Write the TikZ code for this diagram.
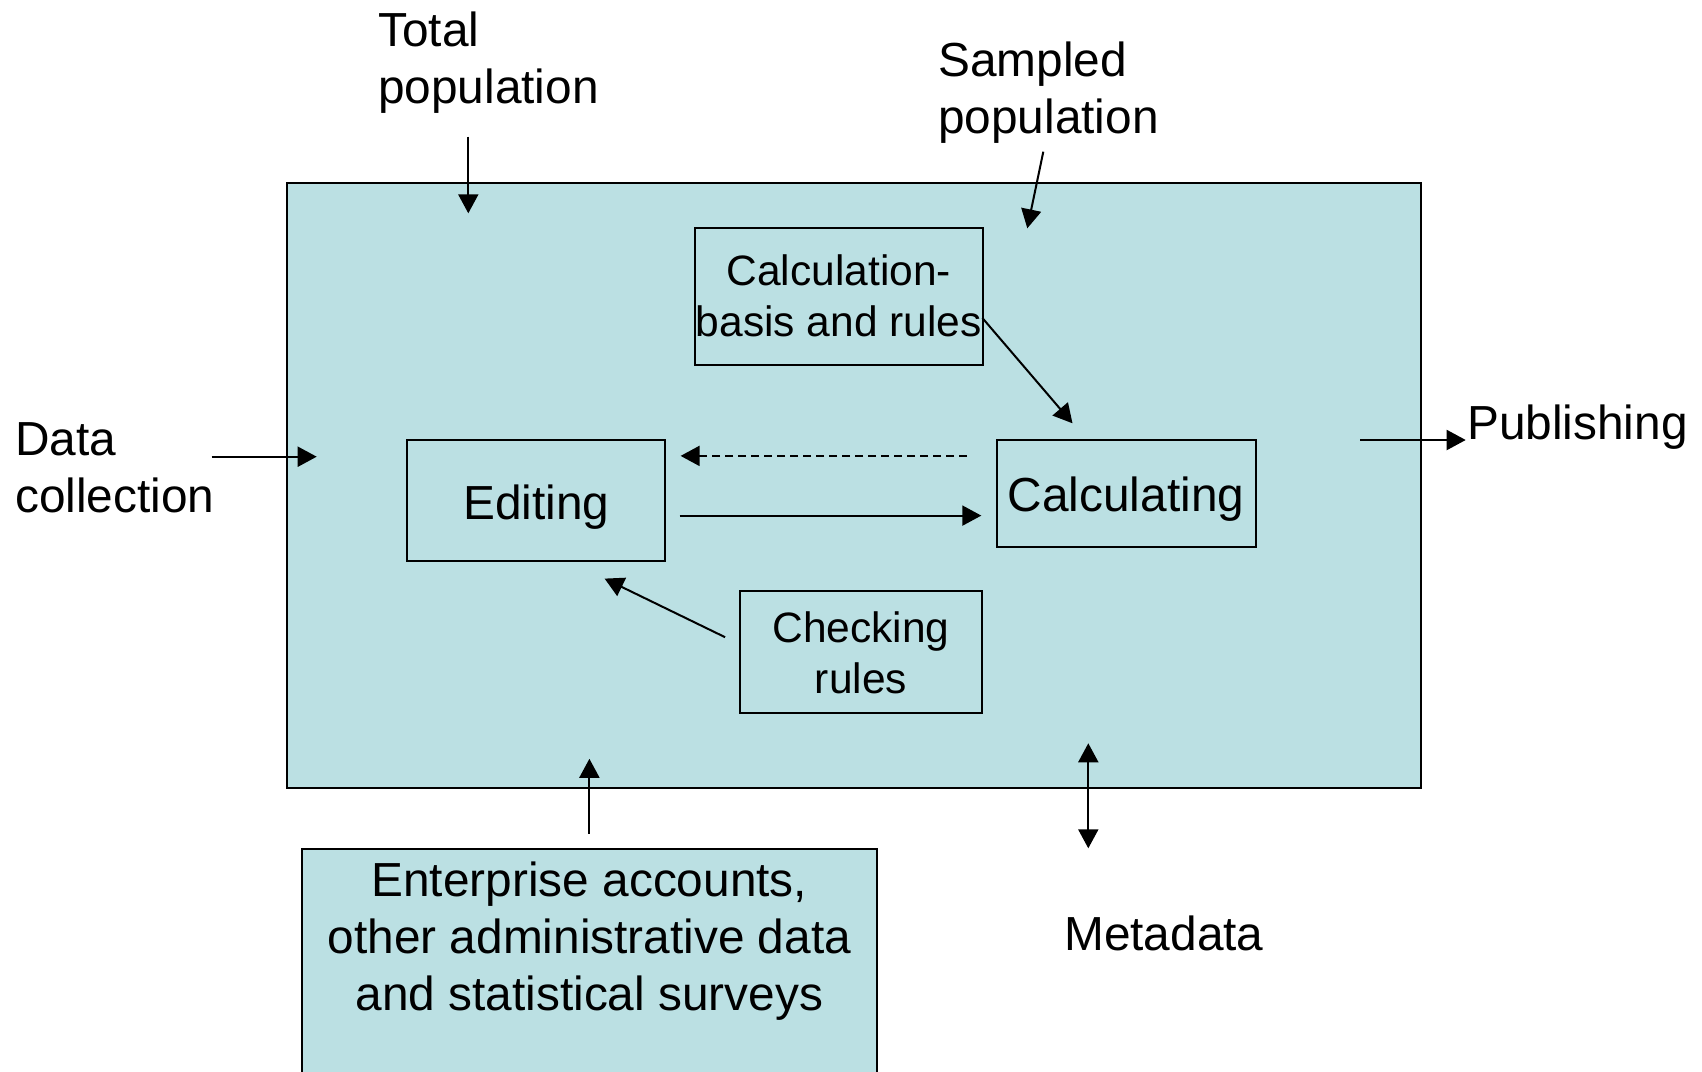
\documentclass[tikz,border=0pt]{standalone}
\usepackage{fontspec}
\setmainfont{Liberation Sans}
\usetikzlibrary{arrows.meta}
\definecolor{boxfill}{RGB}{187,224,227}
\begin{document}
\begin{tikzpicture}[x=1pt,y=-1pt,
  big/.style={font=\fontsize{47.8}{57}\selectfont},
  small/.style={font=\fontsize{42.5}{51.5}\selectfont},
  frame/.style={draw=black, line width=2pt, fill=boxfill, rectangle, inner sep=0pt},
  arr/.style={line width=2pt, -{Triangle[length=19pt,width=20pt]}},
  darr/.style={line width=2pt, {Triangle[length=19pt,width=20pt]}-{Triangle[length=19pt,width=20pt]}},
  txt/.style={inner sep=0pt}]
\useasboundingbox (0,0) rectangle (1702,1071);
\fill[white] (0,0) rectangle (1702,1071);

% boxes
\node[frame, minimum width=1134pt, minimum height=605pt] (main) at (853.7,485.8) {};
\node[frame, minimum width=288pt, minimum height=136.7pt] (basisbox) at (838.7,296.7) {};
\node[frame, minimum width=257.7pt, minimum height=121pt] (editbox) at (536.2,500.5) {};
\node[frame, minimum width=258.4pt, minimum height=106.7pt] (calcbox) at (1126.5,493.3) {};
\node[frame, minimum width=242.3pt, minimum height=121.7pt] (checkbox) at (861.2,651.9) {};
\node[frame, minimum width=575.2pt, minimum height=241.1pt] (entbox) at (589.4,969.5) {};

% texts (base anchor = baseline of the last line)
\node[txt, small, anchor=base, align=center] (basistext) at (838.7,336.5) {Calculation-\\basis and rules};
\node[txt, big, anchor=base] (edittext) at (536.2,519.3) {Editing};
\node[txt, big, anchor=base] (calctext) at (1126,511.7) {Calculating};
\node[txt, small, anchor=base, align=center] (checktext) at (861,693.8) {Checking\\rules};
\node[txt, big, anchor=base, align=center] (enttext) at (589.4,1010.6) {Enterprise accounts,\\other administrative data\\and statistical surveys};
\node[txt, big, anchor=base west, align=left] (total) at (378,103.7) {Total\\population};
\node[txt, big, anchor=base west, align=left] (sampled) at (938,133.7) {Sampled\\population};
\node[txt, big, anchor=base west, align=left] (datacol) at (15,512.6) {Data\\collection};
\node[txt, big, anchor=base west] (publish) at (1467,439.5) {Publishing};
\node[txt, big, anchor=base west] (meta) at (1064,950.7) {Metadata};

% arrow end points
\coordinate (t1) at (468.3,136.7); \coordinate (t2) at (468.3,213.3);
\coordinate (s1) at (1043.3,151.7); \coordinate (s2) at (1027.3,228.3);
\coordinate (d1) at (211.7,456.7); \coordinate (d2) at (316.7,456.7);
\coordinate (p1) at (1360,440); \coordinate (p2) at (1465.7,440);
\coordinate (b1) at (982.4,318); \coordinate (b2) at (1072.5,423.3);
\coordinate (r1) at (967.2,455.9); \coordinate (r2) at (680.6,455.9);
\coordinate (f1) at (679.5,515.6); \coordinate (f2) at (981.3,515.6);
\coordinate (c1) at (725.1,637.2); \coordinate (c2) at (604.6,578.6);
\coordinate (e1) at (589.4,833.7); \coordinate (e2) at (589.4,758.8);
\coordinate (m1) at (1088.3,743.3); \coordinate (m2) at (1088.3,848.3);

% arrows
\draw[arr] (t1) -- (t2);
\draw[arr] (s1) -- (s2);
\draw[arr] (d1) -- (d2);
\draw[arr] (p1) -- (p2);
\draw[arr] (b1) -- (b2);
\draw[arr, dash pattern=on 8pt off 5pt] (r1) -- (r2);
\draw[arr] (f1) -- (f2);
\draw[arr] (c1) -- (c2);
\draw[arr] (e1) -- (e2);
\draw[darr] (m1) -- (m2);
\end{tikzpicture}
\end{document}
